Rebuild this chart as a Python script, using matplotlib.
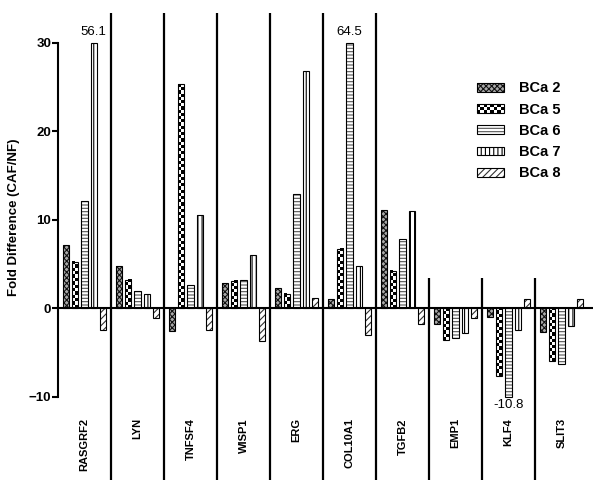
import numpy as np
import matplotlib.pyplot as plt
from matplotlib.patches import Rectangle
from matplotlib.legend_handler import HandlerBase

plt.rcParams['font.family'] = ['Liberation Sans', 'DejaVu Sans']

# data (fold difference CAF/NF)
genes = ['RASGRF2', 'LYN', 'TNFSF4', 'WISP1', 'ERG', 'COL10A1', 'TGFB2', 'EMP1', 'KLF4', 'SLIT3']
samples = ['BCa 2', 'BCa 5', 'BCa 6', 'BCa 7', 'BCa 8']
bca2 = [7.2, 4.8, -2.6, 2.9, 2.3, 1.1, 11.1, -1.8, -1.0, -2.7]
bca5 = [5.2, 3.2, 25.3, 3.1, 1.6, 6.7, 4.2, -3.6, -7.7, -6.0]
bca6 = [12.1, 2.0, 2.6, 3.2, 12.9, 64.5, 7.8, -3.4, -10.8, -6.3]
bca7 = [56.1, 1.6, 10.5, 6.0, 26.8, 4.8, 11.0, -2.8, -2.4, -2.0]
bca8 = [-2.4, -1.1, -2.4, -3.7, 1.2, -3.0, -1.8, -1.1, 1.1, 1.1]
series = [bca2, bca5, bca6, bca7, bca8]

# look of each series (None = checkerboard)
hatches = ['xxxxxx', None, '-----', '||||', '/////']
hatch_lw = [0.8, 0, 0.8, 0.8, 0.8]
hatch_col = ['#111111', 'black', '#555555', 'black', '#333333']
face_col = ['#aaaaaa', 'white', 'white', 'white', 'white']

ymin, ymax = -10, 30


class CheckerKey:
    pass


class CheckerHandler(HandlerBase):
    # legend key drawn as a small black/white checkerboard
    def create_artists(self, legend, orig_handle, xdescent, ydescent,
                       width, height, fontsize, trans):
        arts = []
        nc, nr = 8, 3
        cw, ch = width / nc, height / nr
        for i in range(nr):
            for j in range(nc):
                if (i + j) % 2 == 0:
                    arts.append(Rectangle((-xdescent + j * cw, -ydescent + i * ch), cw, ch,
                                          facecolor='black', edgecolor='none', transform=trans))
        arts.append(Rectangle((-xdescent, -ydescent), width, height, fill=False,
                              edgecolor='black', linewidth=0.8, transform=trans))
        return arts


class TupleHandler(HandlerBase):
    def create_artists(self, legend, orig_handle, xdescent, ydescent,
                       width, height, fontsize, trans):
        hatch, lw, col, fc = orig_handle
        with plt.rc_context({'hatch.linewidth': lw}):
            p = Rectangle((-xdescent, -ydescent), width, height, facecolor=fc,
                          edgecolor=col, hatch=hatch, linewidth=0, transform=trans)
        o = Rectangle((-xdescent, -ydescent), width, height, fill=False,
                      edgecolor='black', linewidth=0.8, transform=trans)
        return [p, o]


class HatchKey(tuple):
    pass


fig = plt.figure(figsize=(6, 4.87), dpi=100)
ax = fig.add_axes([0.0967, 0.0125, 0.892, 0.9633])

x = np.arange(len(genes)) + 0.5
pitch = 0.175
width = 0.12
cell = 0.36

handles = []
for k, vals in enumerate(series):
    v = np.clip(np.array(vals), ymin, ymax)
    xs = x + (k - 2) * pitch
    if hatches[k] is None:
        for xi, hi in zip(xs, v):
            n = max(1, int(round(abs(hi) / cell)))
            pattern = np.add.outer(np.arange(n), np.arange(2)) % 2
            ax.imshow(pattern, cmap='Greys', vmin=0, vmax=1, origin='lower',
                      extent=(xi - width / 2, xi + width / 2, 0, hi),
                      aspect='auto', interpolation='nearest', zorder=3)
        handles.append(CheckerKey())
    else:
        with plt.rc_context({'hatch.linewidth': hatch_lw[k]}):
            ax.bar(xs, v, width=width, color=face_col[k], edgecolor=hatch_col[k],
                   hatch=hatches[k], linewidth=0, zorder=3)
        handles.append(HatchKey((hatches[k], hatch_lw[k], hatch_col[k], face_col[k])))
    ax.bar(xs, v, width=width, fill=False, edgecolor='black', linewidth=0.8, zorder=4)
    # values beyond the axis range are written next to the bar
    for i, val in enumerate(vals):
        if val > ymax:
            ax.text(xs[i], ymax + 0.5, f'{val:.1f}', ha='center', va='bottom', fontsize=9.5)
        elif val < ymin:
            ax.text(xs[i], ymin - 0.3, f'{val:.1f}', ha='center', va='top', fontsize=9.5)

ax.set_xlim(0, 10.1)
ax.set_ylim(-19.5, 33.5)

# zero line and group separators
ax.axhline(0, color='black', lw=1.5, zorder=5)
for i in range(1, len(genes)):
    top = 33.4 if i <= 6 else 3.4
    ax.plot([i, i], [-19.4, top], color='black', lw=1.6, zorder=5, solid_capstyle='butt')

for i, g in enumerate(genes):
    ax.text(x[i], -12.4, g, rotation=90, ha='center', va='top',
            fontsize=8, fontweight='bold')

for s in ['top', 'right', 'bottom']:
    ax.spines[s].set_visible(False)
ax.spines['left'].set_bounds(ymin, ymax)
ax.spines['left'].set_linewidth(1.5)
ax.set_xticks([])
ax.set_yticks([-10, 0, 10, 20, 30])
ax.tick_params(axis='y', direction='out', length=4, width=1.5, labelsize=9.5, pad=1)
for t in ax.get_yticklabels():
    t.set_fontweight('bold')

ax.set_ylabel('Fold Difference (CAF/NF)', fontsize=9.5, fontweight='bold')
ax.yaxis.set_label_coords(-0.071, 0.562)

ax.legend(handles, samples, loc='upper left', bbox_to_anchor=(0.795, 0.833),
          bbox_transform=fig.transFigure, frameon=False,
          handler_map={CheckerKey: CheckerHandler(), HatchKey: TupleHandler()},
          prop={'weight': 'bold', 'size': 10.5}, handlelength=1.85,
          handleheight=0.55, labelspacing=0.5, handletextpad=1.0,
          borderpad=0, borderaxespad=0)

fig.savefig('out.png', dpi=100)
